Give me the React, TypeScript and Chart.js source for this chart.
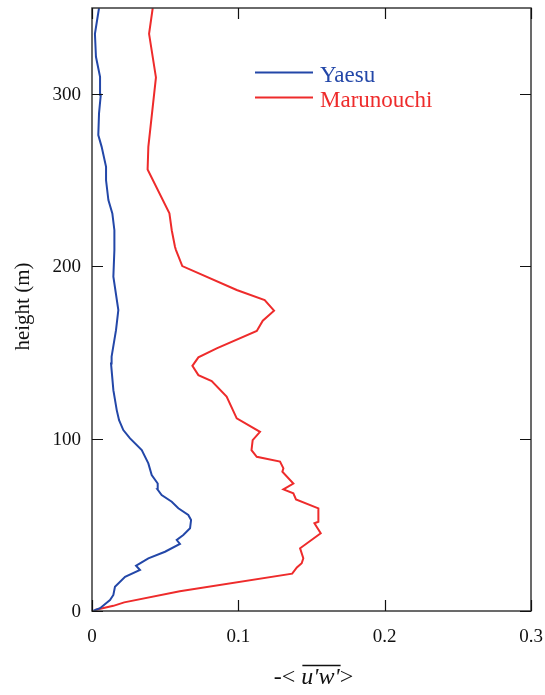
import React, { useEffect, useRef } from "react";
import { Chart, registerables } from "chart.js";

Chart.register(...registerables);

// Yaesu profile
const yaesuHeight = [0.2, 1.6, 6.4, 9.3, 14.1, 19.9, 23.8, 26.3, 27.7, 30.6, 34.4, 38.9, 41.2, 44.1, 48, 52.8, 55.7, 59.6, 63.4, 67.3, 70.6, 74, 78.9, 85.7, 93.4, 100.2, 105, 110.8, 116.6, 128.2, 143.7, 147.6, 163, 174.7, 194, 209.5, 221, 230.8, 238.5, 250, 257.8, 269.4, 276.2, 288.8, 299.6, 310, 321.7, 335, 350];
const yaesuValue = [0.001, 0.0055, 0.0123, 0.0146, 0.0157, 0.0226, 0.0328, 0.0301, 0.0328, 0.0385, 0.0499, 0.0601, 0.0579, 0.0624, 0.067, 0.0677, 0.0658, 0.059, 0.0545, 0.0476, 0.0447, 0.0449, 0.0408, 0.0385, 0.034, 0.026, 0.0214, 0.0185, 0.0169, 0.0146, 0.013, 0.0134, 0.0164, 0.018, 0.0146, 0.0153, 0.0153, 0.0139, 0.0112, 0.0096, 0.0096, 0.0066, 0.0043, 0.0048, 0.006, 0.0055, 0.0027, 0.002, 0.0048];

// Marunouchi profile
const maruHeight = [0.6, 3, 5, 11.4, 21.7, 25.3, 27.7, 30.6, 36.4, 45.1, 50.9, 51.8, 59.6, 64.8, 68.3, 70.6, 74, 80.8, 82.8, 86.7, 89.5, 93.4, 99.2, 104, 111.8, 124.4, 133.5, 136.9, 142.3, 147.2, 152.4, 162.5, 168.5, 174.3, 180.5, 186.3, 200.2, 209.5, 211.4, 221, 230.8, 256.3, 269.4, 309.7, 335, 350];
const maruValue = [0.002, 0.0146, 0.022, 0.06, 0.1368, 0.14, 0.1433, 0.1444, 0.1422, 0.1563, 0.152, 0.1547, 0.1547, 0.1394, 0.1376, 0.1308, 0.1376, 0.1301, 0.1308, 0.1285, 0.1126, 0.109, 0.1098, 0.1148, 0.0989, 0.092, 0.0818, 0.0727, 0.0686, 0.0727, 0.0852, 0.1126, 0.1167, 0.1244, 0.118, 0.0989, 0.0617, 0.0574, 0.0567, 0.0545, 0.0529, 0.038, 0.0385, 0.0437, 0.039, 0.0415];

const xTicks = [0, 0.1, 0.2, 0.3];
const xTickLabels = ["0", "0.1", "0.2", "0.3"];
const yTicks = [0, 100, 200, 300];
const yTickLabels = ["0", "100", "200", "300"];

const seriesNames = ["Yaesu", "Marunouchi"];
const seriesColors = ["#2347a8", "#ee2b2b"];

const SERIF = "'Liberation Serif', 'DejaVu Serif', serif";

const decorPlugin = {
  id: "decor",
  afterDraw(chart: any) {
    const ctx = chart.ctx as CanvasRenderingContext2D;
    const { left, right, top, bottom } = chart.chartArea;
    const xs = chart.scales.x;
    const ys = chart.scales.y;
    ctx.save();
    // frame
    ctx.strokeStyle = "#3a3a3a";
    ctx.lineWidth = 1.5;
    ctx.strokeRect(left, top, right - left, bottom - top);
    // ticks
    const tl = 11;
    ctx.strokeStyle = "#111";
    ctx.lineWidth = 1.2;
    ctx.beginPath();
    xTicks.forEach((v) => {
      const px = Math.round(xs.getPixelForValue(v)) + 0.5;
      ctx.moveTo(px, bottom);
      ctx.lineTo(px, bottom - tl);
      ctx.moveTo(px, top);
      ctx.lineTo(px, top + tl);
    });
    yTicks.forEach((v) => {
      const py = Math.round(ys.getPixelForValue(v)) + 0.5;
      ctx.moveTo(left, py);
      ctx.lineTo(left + tl, py);
      ctx.moveTo(right, py);
      ctx.lineTo(right - tl, py);
    });
    ctx.stroke();
    // tick labels
    ctx.fillStyle = "#111";
    ctx.font = `19px ${SERIF}`;
    ctx.textAlign = "center";
    ctx.textBaseline = "alphabetic";
    xTicks.forEach((v, i) => {
      ctx.fillText(xTickLabels[i], xs.getPixelForValue(v), bottom + 31);
    });
    ctx.textAlign = "right";
    ctx.textBaseline = "middle";
    yTicks.forEach((v, i) => {
      ctx.fillText(yTickLabels[i], left - 11, ys.getPixelForValue(v) + 1);
    });
    // y title
    ctx.save();
    ctx.translate(28.5, 306.5);
    ctx.rotate(-Math.PI / 2);
    ctx.textAlign = "center";
    ctx.textBaseline = "alphabetic";
    ctx.font = `21px ${SERIF}`;
    ctx.fillText("height (m)", 0, 0);
    ctx.restore();
    // x title: -< overline(u'w')>
    const normal = `24px ${SERIF}`;
    const italic = `italic 24px ${SERIF}`;
    const p1 = "-< ";
    const p2 = "u'w'";
    const p3 = ">";
    ctx.font = normal;
    const w1 = ctx.measureText(p1).width;
    const w3 = ctx.measureText(p3).width;
    ctx.font = italic;
    const w2 = ctx.measureText(p2).width;
    const total = w1 + w2 + w3;
    const cx = (left + right) / 2 + 2;
    let x0 = cx - total / 2;
    const base = 684;
    ctx.textAlign = "left";
    ctx.textBaseline = "alphabetic";
    ctx.font = normal;
    ctx.fillText(p1, x0, base);
    ctx.font = italic;
    ctx.fillText(p2, x0 + w1, base);
    ctx.font = normal;
    ctx.fillText(p3, x0 + w1 + w2, base);
    ctx.strokeStyle = "#111";
    ctx.lineWidth = 1.3;
    ctx.beginPath();
    ctx.moveTo(x0 + w1 + 1, 665.5);
    ctx.lineTo(x0 + w1 + w2 + 1, 665.5);
    ctx.stroke();
    // legend
    ctx.font = `23px ${SERIF}`;
    const legY = [72, 97];
    seriesNames.forEach((name, i) => {
      ctx.strokeStyle = seriesColors[i];
      ctx.lineWidth = 2;
      ctx.beginPath();
      ctx.moveTo(255, legY[i] + 0.5);
      ctx.lineTo(313, legY[i] + 0.5);
      ctx.stroke();
      ctx.fillStyle = seriesColors[i];
      ctx.textAlign = "left";
      ctx.textBaseline = "alphabetic";
      ctx.fillText(name, 320, legY[i] + 10);
    });
    ctx.restore();
  },
};

export default function App() {
  const ref = useRef<HTMLCanvasElement | null>(null);
  useEffect(() => {
    document.body.style.margin = "0";
    const canvas = ref.current!;
    const chart = new Chart(canvas, {
      type: "scatter",
      data: {
        datasets: [
          {
            label: seriesNames[0],
            data: yaesuHeight.map((h, i) => ({ x: yaesuValue[i], y: h })),
            borderColor: seriesColors[0],
            backgroundColor: seriesColors[0],
            showLine: true,
            pointRadius: 0,
            borderWidth: 2,
            tension: 0,
          },
          {
            label: seriesNames[1],
            data: maruHeight.map((h, i) => ({ x: maruValue[i], y: h })),
            borderColor: seriesColors[1],
            backgroundColor: seriesColors[1],
            showLine: true,
            pointRadius: 0,
            borderWidth: 2,
            tension: 0,
          },
        ],
      },
      options: {
        responsive: false,
        animation: false,
        layout: { padding: { left: 92, right: 14, top: 8, bottom: 84 } },
        plugins: { legend: { display: false }, tooltip: { enabled: false } },
        scales: {
          x: { type: "linear", min: 0, max: 0.3, display: false },
          y: { type: "linear", min: 0, max: 350, display: false },
        },
      },
      plugins: [decorPlugin],
    });
    return () => chart.destroy();
  }, []);
  return (
    <div style={{ position: "absolute", left: 0, top: 0, width: 545, height: 695, background: "#fff" }}>
      <canvas ref={ref} width={545} height={695} style={{ display: "block" }} />
    </div>
  );
}
